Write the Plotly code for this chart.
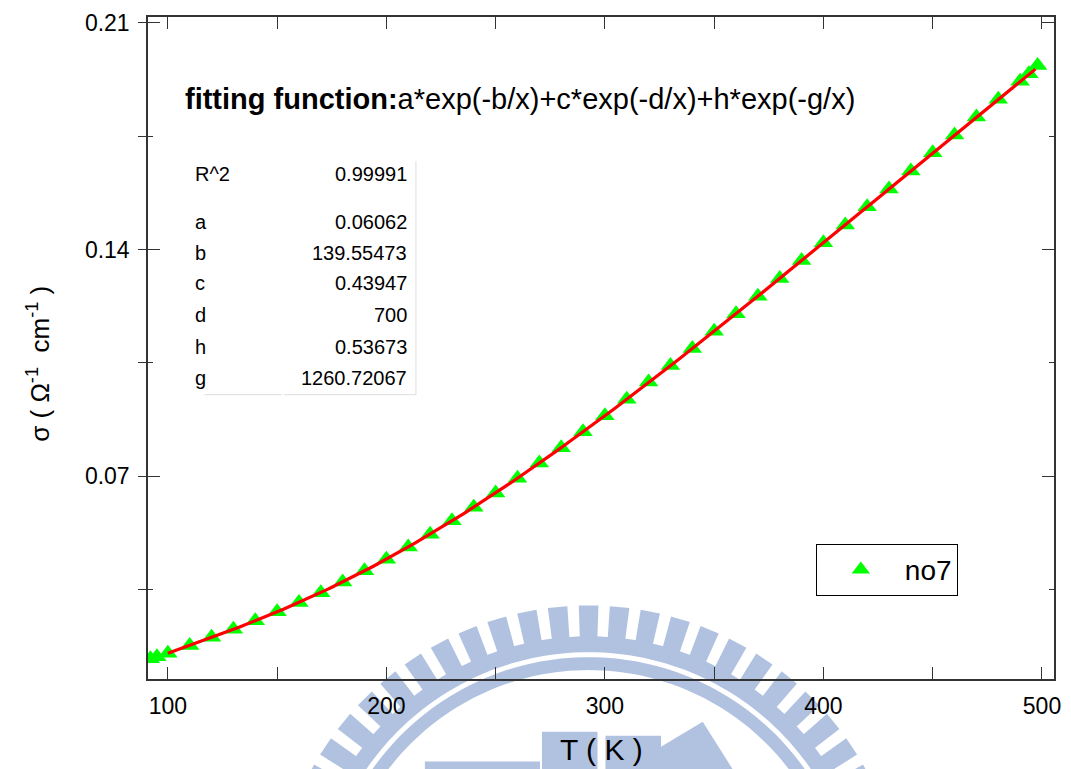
import numpy as np
import plotly.graph_objects as go

# measured conductivity vs temperature
temperature_K = [92, 95, 100, 110, 120, 130, 140, 150, 160, 170, 180, 190,
                 200, 210, 220, 230, 240, 250, 260, 270, 280, 290, 300, 310,
                 320, 330, 340, 350, 360, 370, 380, 390, 400, 410, 420, 430,
                 440, 450, 460, 470, 480, 490, 494, 498]
conductivity = [0.0137, 0.0143, 0.0154, 0.0178, 0.0203, 0.0228, 0.0254, 0.0282,
                0.0311, 0.0341, 0.0374, 0.0409, 0.0444, 0.0482, 0.0521, 0.0563,
                0.0605, 0.0649, 0.0694, 0.0741, 0.0788, 0.0838, 0.0887, 0.0938,
                0.0991, 0.1042, 0.1095, 0.1148, 0.1202, 0.1256, 0.1311, 0.1366,
                0.1421, 0.1476, 0.1532, 0.1587, 0.1643, 0.1699, 0.1754, 0.1809,
                0.1864, 0.1920, 0.1943, 0.1968]

# fit results: a*exp(-b/x)+c*exp(-d/x)+h*exp(-g/x)
param_names = ["a", "b", "c", "d", "h", "g"]
param_values = [0.06062, 139.55473, 0.43947, 700, 0.53673, 1260.72067]
r_squared = 0.99991
fit_T_range = [100, 497]

x_ticks = [100, 200, 300, 400, 500]
y_ticks = [0.07, 0.14, 0.21]
y_tick_labels = ["0.07", "0.14", "0.21"]

FONT = "Liberation Sans, Arial, sans-serif"
W_PX, H_PX = 1071, 769
L, R, T, B = 148, 1061, 13, 679


def fx(p):
    return (p - L) / (R - L)


def fy(p):
    return (B - p) / (B - T)


p = dict(zip(param_names, param_values))
t_fit = np.linspace(fit_T_range[0], fit_T_range[1], 300)
s_fit = (p["a"] * np.exp(-p["b"] / t_fit) + p["c"] * np.exp(-p["d"] / t_fit)
         + p["h"] * np.exp(-p["g"] / t_fit))

x_range = [90.92, 505.5]
y_range = [0.00745, 0.2118]

fig = go.Figure()
fig.add_trace(go.Scatter(
    x=temperature_K, y=conductivity, mode="markers", name="no7",
    marker=dict(symbol="triangle-up", size=17, color="#00ff00", line=dict(width=0)),
))
fig.add_trace(go.Scatter(
    x=t_fit, y=s_fit, mode="lines", yaxis="y2", showlegend=False,
    line=dict(color="#ff0000", width=3.2),
))

axis_col = "#333333"
fig.update_layout(
    width=W_PX, height=H_PX,
    margin=dict(l=L, r=W_PX - R, t=T, b=H_PX - B),
    paper_bgcolor="white", plot_bgcolor="rgba(0,0,0,0)",
    font=dict(family=FONT, color="black"),
    xaxis=dict(
        range=x_range, tickvals=x_ticks, ticks="inside", ticklen=12, tickwidth=1,
        tickcolor=axis_col, showline=True, linecolor=axis_col, linewidth=1.5,
        mirror="allticks", showgrid=False, zeroline=False,
        tickfont=dict(size=23), ticklabelstandoff=6,
        minor=dict(ticks="inside", ticklen=6, dtick=50, tick0=0, tickcolor=axis_col),
    ),
    yaxis=dict(
        range=y_range, tickvals=y_ticks, ticktext=y_tick_labels,
        ticks="outside", ticklen=8, tickwidth=1, tickcolor=axis_col,
        showline=True, linecolor=axis_col, linewidth=1.5, mirror=True,
        showgrid=False, zeroline=False, tickfont=dict(size=23),
        ticklabelstandoff=4,
        minor=dict(ticks="outside", ticklen=8, dtick=0.035, tick0=0, tickcolor=axis_col),
    ),
    yaxis2=dict(
        range=y_range, overlaying="y", side="left", tickvals=y_ticks,
        showticklabels=False, ticks="inside", ticklen=12, tickwidth=1,
        tickcolor=axis_col, mirror="allticks", showline=True,
        linecolor=axis_col, linewidth=1.5, showgrid=False, zeroline=False,
        minor=dict(ticks="inside", ticklen=5, dtick=0.035, tick0=0, tickcolor=axis_col),
    ),
    legend=dict(
        x=fx(821), y=fy(543), xanchor="left", yanchor="top",
        bgcolor="white", bordercolor="black", borderwidth=1,
        font=dict(size=28), itemwidth=78,
    ),
)

# axis titles
fig.add_annotation(
    x=fx(605), y=fy(750), xref="paper", yref="paper", showarrow=False,
    text="T ( K )", font=dict(size=30), xanchor="center", yanchor="middle",
)
fig.add_annotation(
    x=fx(38), y=fy(362), xref="paper", yref="paper", showarrow=False,
    text="σ ( Ω<sup>-1</sup>  cm<sup>-1</sup> )", textangle=-90,
    font=dict(size=26), xanchor="center", yanchor="middle",
)

# fit function caption
fig.add_annotation(
    x=fx(183), y=fy(95), xref="paper", yref="paper", showarrow=False,
    text="<b>fitting function:</b>a*exp(-b/x)+c*exp(-d/x)+h*exp(-g/x)",
    font=dict(size=29), xanchor="left", yanchor="middle",
)

# parameter table
row_y = [219, 250, 281, 313, 345, 376]
rows = [("R^2", r_squared, 171)] + [(n, v, y) for n, v, y in zip(param_names, param_values, row_y)]
for name, val, ypix in rows:
    fig.add_annotation(x=fx(193), y=fy(ypix), xref="paper", yref="paper",
                       showarrow=False, text=name, font=dict(size=20),
                       xanchor="left", yanchor="middle")
    fig.add_annotation(x=fx(411), y=fy(ypix), xref="paper", yref="paper",
                       showarrow=False, text=str(val), font=dict(size=20),
                       xanchor="right", yanchor="middle")

grid_col = "#dedede"
shapes = [
    dict(type="line", xref="paper", yref="paper", x0=fx(418), x1=fx(418),
         y0=fy(158), y1=fy(393), line=dict(color=grid_col, width=1)),
    dict(type="line", xref="paper", yref="paper", x0=fx(205), x1=fx(283),
         y0=fy(393), y1=fy(393), line=dict(color=grid_col, width=1)),
    dict(type="line", xref="paper", yref="paper", x0=fx(285), x1=fx(418),
         y0=fy(393), y1=fy(393), line=dict(color=grid_col, width=1)),
]

# background emblem
emb = "#b1c2e0"
cx, cy = 592, 924


def pt(xp, yp):
    return f"{fx(xp):.5f},{fy(yp):.5f}"


def ring(r_out, r_in, n=240):
    th = np.linspace(0, 2 * np.pi, n, endpoint=False)
    outer = [pt(cx + r_out * np.cos(a), cy + r_out * np.sin(a)) for a in th]
    inner = [pt(cx + r_in * np.cos(a), cy + r_in * np.sin(a)) for a in th[::-1]]
    return "M" + "L".join(outer) + "Z M" + "L".join(inner) + "Z"


teeth = []
n_teeth = 64
hw = 0.031
for k in range(n_teeth):
    a = -np.pi / 2 + k * 2 * np.pi / n_teeth
    corners = [(286, a - hw), (319, a - hw), (319, a + hw), (286, a + hw)]
    pts = [(cx + r * np.cos(t), cy + r * np.sin(t)) for r, t in corners]
    if min(q[1] for q in pts) < 800:
        teeth.append("M" + "L".join(pt(*q) for q in pts) + "Z")

emblem_paths = [ring(288, 272), ring(267, 254), " ".join(teeth)]
for path in emblem_paths:
    shapes.append(dict(type="path", xref="paper", yref="paper", path=path,
                       fillcolor=emb, line=dict(width=0), layer="below"))

blocks = [(545, 601, 732, 790), (609, 665, 736, 790), (427, 543, 762, 790)]
for x0, x1, y0, y1 in blocks:
    shapes.append(dict(type="rect", xref="paper", yref="paper",
                       x0=fx(x0), x1=fx(x1), y0=fy(y0), y1=fy(y1),
                       fillcolor=emb, line=dict(width=0), layer="below"))
roof = "M" + "L".join(pt(*q) for q in [(657, 790), (657, 752), (707, 722), (750, 790)]) + "Z"
shapes.append(dict(type="path", xref="paper", yref="paper", path=roof,
                   fillcolor=emb, line=dict(width=0), layer="below"))

fig.update_layout(shapes=shapes)

fig.write_html("out.html")
